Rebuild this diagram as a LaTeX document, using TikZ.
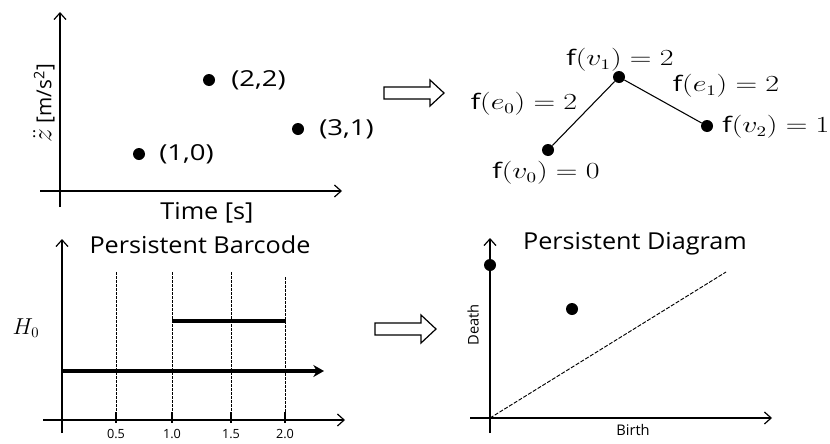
\documentclass[tikz,border=0pt]{standalone}
\usepackage{fontspec}
\setmainfont{Open Sans}
\usetikzlibrary{arrows.meta}
\begin{document}
\begin{tikzpicture}[x=0.75pt,y=-0.75pt,
  axis/.style={line width=0.9pt,-{Straight Barb[length=5pt,width=9pt]}},
  dot/.style={circle,fill=black,inner sep=0pt,minimum size=9pt},
  lbl/.style={font=\fontsize{16.5}{19}\selectfont,inner sep=0pt,xscale=1.25},
  glbl/.style={font=\fontsize{16}{19}\selectfont,inner sep=0pt,xscale=1.3},
  ttl/.style={font=\fontsize{17.5}{21}\selectfont,inner sep=0pt,xscale=1.08},
  small/.style={font=\fontsize{11}{13}\selectfont,inner sep=0pt},
  tick/.style={font=\fontsize{9.5}{11}\selectfont,inner sep=0pt},
  grid/.style={dashed,dash pattern=on 2pt off 1pt,line width=0.6pt},
  diag/.style={dashed,dash pattern=on 3pt off 1.2pt,line width=0.7pt},
  bar/.style={line width=2.6pt},
  hollow/.style={draw,line width=0.9pt,fill=white},
  edge/.style={line width=0.8pt}]
\useasboundingbox (0,0) rectangle (830,443);

% ---------- top-left: data points ----------
\coordinate (tlyb) at (60,207);
\coordinate (tlyt) at (60,12);
\coordinate (tlxl) at (40,191);
\coordinate (tlxr) at (342,191);
\draw[axis] (tlyb) -- (tlyt);
\draw[axis] (tlxl) -- (tlxr);
\node[dot] (p10) at (139,154) {};
\node[dot] (p22) at (209,80) {};
\node[dot] (p31) at (298,129) {};
\node[lbl,anchor=west] (l10) at (159,154) {(1,0)};
\node[lbl,anchor=west] (l22) at (231,80) {(2,2)};
\node[lbl,anchor=west] (l31) at (319,129) {(3,1)};
\node[ttl] (tlx) at (207,213) {Time [s]};
\node[font=\fontsize{15.5}{18}\selectfont,inner sep=0pt,rotate=90] (tly) at (44,103) {{\fontsize{21}{24}\selectfont$\ddot{z}$} [m/s\textsuperscript{2}]};

% ---------- hollow arrows ----------
\draw[hollow] (384,87) -- (430,87) -- (430,80) -- (444,93) -- (430,106) -- (430,99) -- (384,99) -- cycle;
\draw[hollow] (375,323) -- (421,323) -- (421,315) -- (436,329) -- (421,343) -- (421,335) -- (375,335) -- cycle;

% ---------- top-right: graph ----------
\node[dot] (v0) at (548,150) {};
\node[dot] (v1) at (619,77) {};
\node[dot] (v2) at (707,126) {};
\draw[edge] (v0) -- (v1);
\draw[edge] (v1) -- (v2);
\node[glbl] (fv1) at (620,60) {$\mathrm{f}(v_1)=2$};
\node[glbl] (fe0) at (524,104) {$\mathrm{f}(e_0)=2$};
\node[glbl] (fe1) at (726,86) {$\mathrm{f}(e_1)=2$};
\node[glbl,anchor=west] (fv2) at (722,127) {$\mathrm{f}(v_2)=1$};
\node[glbl] (fv0) at (546,173) {$\mathrm{f}(v_0)=0$};

% ---------- bottom-left: barcode ----------
\coordinate (blyb) at (62,433);
\coordinate (blyt) at (62,239);
\coordinate (blxl) at (43,420);
\coordinate (blxr) at (345,420);
\draw[axis] (blyb) -- (blyt);
\draw[axis] (blxl) -- (blxr);
\foreach \xx/\lab/\top/\k in {116/0.5/272/1,172/1.0/272/2,231/1.5/272/3,285/2.0/277/4}{
  \coordinate (gt\k) at (\xx,\top);
  \coordinate (gb\k) at (\xx,420);
  \draw[grid] (gt\k) -- (gb\k);
  \draw[line width=1.2pt] (\xx,412) -- (\xx,423);
  \node[tick] (tk\k) at (\xx,434) {\lab};
}
\coordinate (b1s) at (172,321);
\coordinate (b1e) at (286,321);
\coordinate (b0s) at (62,371);
\coordinate (b0e) at (324,371);
\draw[bar] (b1s) -- (b1e);
\draw[bar,-{Stealth[length=8pt,width=9pt]}] (b0s) -- (b0e);
\node[font=\fontsize{16}{18}\selectfont,inner sep=0pt] (h0) at (26,328) {$H_0$};
\node[ttl] (blt) at (200,245) {Persistent Barcode};

% ---------- bottom-right: diagram ----------
\coordinate (bryb) at (490,433);
\coordinate (bryt) at (490,238);
\coordinate (brxl) at (470,418);
\coordinate (brxr) at (772,418);
\draw[axis] (bryb) -- (bryt);
\draw[axis] (brxl) -- (brxr);
\coordinate (dg0) at (490,418);
\coordinate (dg1) at (726,272);
\draw[diag] (dg0) -- (dg1);
\node[dot] (d0) at (490,265) {};
\node[dot] (d1) at (572,309) {};
\node[small,rotate=90] (death) at (473,325) {Death};
\node[small] (birth) at (633,430) {Birth};
\node[ttl] (brt) at (635,244) {Persistent Diagram};
\end{tikzpicture}
\end{document}
